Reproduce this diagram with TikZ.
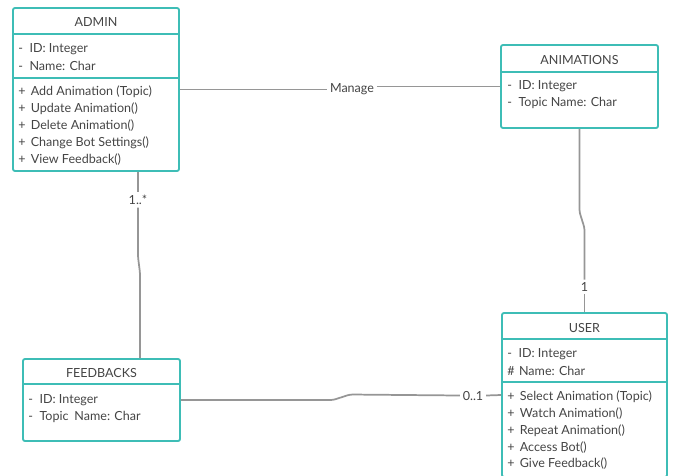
\documentclass[tikz,border=0pt]{standalone}
\usepackage{fontspec}
\setmainfont{Lato}
\usetikzlibrary{positioning}
\definecolor{umlteal}{RGB}{62,189,182}
\definecolor{umltext}{RGB}{68,68,68}
\definecolor{umlline}{RGB}{150,150,150}

\begin{document}
\begin{tikzpicture}[x=0.75pt,y=0.75pt,yscale=-1,xscale=1,
  classbox/.style={draw=umlteal, line width=1.4pt, rounded corners=1.5pt, inner sep=0pt},
  divider/.style={draw=umlteal, line width=1.4pt},
  heading/.style={text=umltext, font=\fontsize{9.4}{11}\selectfont, inner sep=0.75pt, yshift=-0.75pt},
  member/.style={heading, anchor=west},
  mult/.style={heading, fill=white, inner sep=2pt},
  assoc/.style={draw=umlline, line width=1.3pt, rounded corners=2pt}]
\clip (0,0) rectangle (673,475);

%Shape: Class ADMIN
\node[classbox, minimum width=124.5pt, minimum height=122.25pt] (admin) at (96,89.5) {};
\draw[divider] (admin.west |- 0,34) -- (admin.east |- 0,34);
\draw[divider] (admin.west |- 0,78) -- (admin.east |- 0,78);
% Text Node
\node[heading] (adminTitle) at (96,21) {ADMIN};
\node[member] (adminId) at (17,48) {-\hspace{5pt}ID: Integer};
\node[member] (adminName) at (17,65) {-\hspace{5pt}Name: Char};
\node[member] (adminAdd) at (17,91) {+\hspace{4pt}Add Animation (Topic)};
\node[member] (adminUpdate) at (17,108) {+\hspace{4pt}Update Animation()};
\node[member] (adminDelete) at (17,125) {+\hspace{4pt}Delete Animation()};
\node[member] (adminBot) at (17,142) {+\hspace{4pt}Change Bot Settings()};
\node[member] (adminView) at (17,159) {+\hspace{4pt}View Feedback()};

%Shape: Class ANIMATIONS
\node[classbox, minimum width=117.75pt, minimum height=62.25pt] (animations) at (579.5,86.5) {};
\draw[divider] (animations.west |- 0,72) -- (animations.east |- 0,72);
% Text Node
\node[heading] (animTitle) at (579.5,59) {ANIMATIONS};
\node[member] (animId) at (506,85) {-\hspace{5pt}ID: Integer};
\node[member] (animTopic) at (506,102) {-\hspace{5pt}Topic Name: Char};

%Shape: Class FEEDBACKS
\node[classbox, minimum width=117.75pt, minimum height=61.5pt] (feedbacks) at (101.5,400) {};
\draw[divider] (feedbacks.west |- 0,384) -- (feedbacks.east |- 0,384);
% Text Node
\node[heading] (fbTitle) at (101.5,372) {FEEDBACKS};
\node[member] (fbId) at (27,399) {-\hspace{5pt}ID: Integer};
\node[member] (fbTopic) at (27,416) {-\hspace{5pt}Topic\hspace{2pt} Name: Char};

%Shape: Class USER
\node[classbox, minimum width=123.75pt, minimum height=123pt] (user) at (584.5,395) {};
\draw[divider] (user.west |- 0,339) -- (user.east |- 0,339);
\draw[divider] (user.west |- 0,382) -- (user.east |- 0,382);
% Text Node
\node[heading] (userTitle) at (584.5,327) {USER};
\node[member] (userId) at (506,353) {-\hspace{5pt}ID: Integer};
\node[member] (userName) at (506,370) {\#\hspace{1pt} Name: Char};
\node[member] (userSelect) at (506,396) {+\hspace{4pt}Select Animation (Topic)};
\node[member] (userWatch) at (506,413) {+\hspace{4pt}Watch Animation()};
\node[member] (userRepeat) at (506,430) {+\hspace{4pt}Repeat Animation()};
\node[member] (userBot) at (506,447) {+\hspace{4pt}Access Bot()};
\node[member] (userGive) at (506,463) {+\hspace{4pt}Give Feedback()};

% Labels
\node[mult] (manage) at (352,88) {Manage};
\node[mult] (many) at (138,199) {1..*};
\node[mult] (one) at (584.5,286) {1};
\node[mult] (zeroone) at (473,394.5) {0..1};

%Straight Lines
\draw[assoc] (admin.east) -- (admin.east -| manage.west);
\draw[assoc] (manage.east |- animations.west) -- (animations.west);
%Straight Lines
\draw[assoc] (admin.south -| many.north) -- (many.north);
\draw[assoc] (many.south) -- (138,257) -- (140,273) -- (140,273 |- feedbacks.north);
%Straight Lines
\draw[assoc] (animations.south) -- (579.5,212) -- (584.5,228) -- (one.north);
\draw[assoc] (one.south) -- (user.north);
%Straight Lines
\draw[assoc] (feedbacks.east) -- (333,400) -- (350,394.5) -- (zeroone.west);
\draw[assoc] (zeroone.east) -- (user.west);

\end{tikzpicture}
\end{document}
